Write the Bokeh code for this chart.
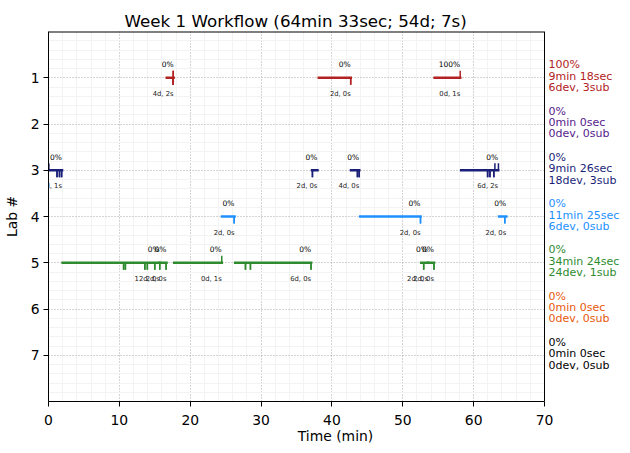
import numpy as np
from bokeh.plotting import figure
from bokeh.models import (Range1d, FixedTicker, ColumnDataSource, LabelSet, Span)
from bokeh.core.properties import value
from bokeh.embed import file_html
from bokeh.resources import INLINE

# ---------------- data ----------------
title_text = "Week 1 Workflow (64min 33sec; 54d; 7s)"
x_label = "Time (min)"
y_label = "Lab #"
x_ticks = [0, 10, 20, 30, 40, 50, 60, 70]
y_ticks = [1, 2, 3, 4, 5, 6, 7]

labs = [1, 2, 3, 4, 5, 6, 7]
lab_colors = ["#b22222", "#551a8b", "#1a1f78", "#1e90ff", "#2e8b2e", "#e8590c", "#000000"]
lab_pct = ["100%", "0%", "0%", "0%", "0%", "0%", "0%"]
lab_time = ["9min 18sec", "0min 0sec", "9min 26sec", "11min 25sec",
            "34min 24sec", "0min 0sec", "0min 0sec"]
lab_counts = ["6dev, 3sub", "0dev, 0sub", "18dev, 3sub", "6dev, 0sub",
              "24dev, 1sub", "0dev, 0sub", "0dev, 0sub"]

# work sessions
sess_lab = [1, 1, 1,
            3, 3, 3, 3,
            4, 4, 4,
            5, 5, 5, 5, 5, 5]
sess_start = [16.7, 38.15, 54.5,
              0.0, 37.2, 42.7, 58.25,
              24.5, 44.0, 63.6,
              2.0, 15.7, 17.75, 26.35, 52.6, 53.55]
sess_end = [17.65, 42.65, 58.1,
            1.9, 37.95, 43.85, 63.45,
            26.25, 52.5, 64.6,
            15.7, 16.65, 24.45, 37.05, 53.55, 54.4]
sess_pct = ["0%", "0%", "100%",
            "0%", "0%", "0%", "0%",
            "0%", "0%", "0%",
            "0%", "0%", "0%", "0%", "0%", "0%"]
sess_info = ["4d, 2s", "2d, 0s", "0d, 1s",
             "6d, 1s", "2d, 0s", "4d, 0s", "6d, 2s",
             "2d, 0s", "2d, 0s", "2d, 0s",
             "12d, 0s", "2d, 0s", "0d, 1s", "6d, 0s", "2d, 0s", "2d, 0s"]

# development events (ticks below the row)
dev_lab = [1] * 6 + [3] * 18 + [4] * 6 + [5] * 24
dev_x = [17.6, 17.6, 17.6, 17.6, 42.65, 42.65,
         1.2, 1.2, 1.55, 1.55, 1.85, 1.85,
         37.25, 37.25,
         43.6, 43.6, 43.85, 43.85,
         61.95, 62.0, 62.3, 62.3, 62.85, 62.85,
         26.2, 26.2, 52.5, 52.5, 64.4, 64.4,
         10.6, 10.6, 10.85, 10.85, 13.6, 13.6, 13.95, 13.95, 15.0, 15.0, 15.7, 15.7,
         16.6, 16.6,
         27.8, 27.8, 28.5, 28.5, 37.05, 37.05,
         52.95, 52.95, 54.4, 54.4]

# submissions (ticks above the row)
sub_lab = [1, 1, 1, 3, 3, 3, 5]
sub_x = [17.6, 17.6, 58.1, 0.05, 63.0, 63.5, 24.45]

# ---------------- layout / styles ----------------
FONT = "DejaVu Sans"
TICK_LEN = 0.15
X_MIN, X_MAX = x_ticks[0], x_ticks[-1]
Y_MIN, Y_MAX = 0, 8
AXES_W = 496            # pixel width of the data area (0..70)
SIDE_W = 78             # extra room on the right for the summaries
FRAME_W = AXES_W + SIDE_W
x_end = X_MAX * FRAME_W / AXES_W

p = figure(frame_width=FRAME_W, frame_height=370,
           x_range=Range1d(X_MIN, x_end), y_range=Range1d(Y_MAX, Y_MIN),
           output_backend="svg", toolbar_location=None,
           title=title_text,
           min_border_left=40, min_border_right=0,
           min_border_top=31, min_border_bottom=43)
p.background_fill_color = "white"
p.border_fill_color = "white"
p.outline_line_color = None

p.title.text_font = FONT
p.title.text_font_size = "16.7px"
p.title.text_font_style = "normal"
p.title.text_color = "black"
p.title.align = "left"
p.title.offset = 76
p.title.standoff = 2

minor_x = [v for v in range(X_MIN, X_MAX, 2) if v % 10 != 0]
minor_y = [round(v, 2) for v in np.arange(0.2, 8.0, 0.2) if abs(v - round(v)) > 1e-6]
xt = FixedTicker(ticks=x_ticks, minor_ticks=minor_x)
yt = FixedTicker(ticks=y_ticks, minor_ticks=minor_y)
p.xaxis.ticker = xt
p.xgrid.ticker = xt
p.yaxis.ticker = yt
p.ygrid.ticker = yt
p.xaxis.bounds = (X_MIN, X_MAX)

for ax in (p.xaxis[0], p.yaxis[0]):
    ax.axis_line_color = "black"
    ax.axis_line_width = 1
    ax.major_tick_out = 5
    ax.major_tick_in = 0
    ax.major_tick_line_color = "black"
    ax.minor_tick_out = 0
    ax.minor_tick_in = 0
    ax.major_label_text_font = FONT
    ax.major_label_text_font_size = "13.9px"
    ax.major_label_text_color = "black"
    ax.axis_label_text_font = FONT
    ax.axis_label_text_font_size = "13.9px"
    ax.axis_label_text_font_style = "normal"
    ax.axis_label_text_color = "black"
    ax.major_label_standoff = 4
p.xaxis.axis_label = x_label
p.yaxis.axis_label = y_label
p.xaxis.major_label_standoff = 8
p.xaxis.axis_label_standoff = 0
p.yaxis.axis_label_standoff = 8

for g in (p.xgrid[0], p.ygrid[0]):
    g.grid_line_color = "#a8a8a8"
    g.grid_line_dash = "1 2"
    g.grid_line_width = 1
    g.minor_grid_line_color = "#f3f3f3"
    g.minor_grid_line_width = 1
p.ygrid[0].cross_bounds = (X_MIN, X_MAX)

# right and top spines of the data area
p.add_layout(Span(location=X_MAX, dimension="height", line_color="black", line_width=1))
p.segment(x0=[X_MIN], y0=[Y_MIN], x1=[X_MAX], y1=[Y_MIN], line_color="black", line_width=2)

# ---------------- marks ----------------
sess_color = [lab_colors[l - 1] for l in sess_lab]
bars = ColumnDataSource(dict(x0=sess_start, x1=sess_end, y=sess_lab,
                             color=sess_color, pct=sess_pct, info=sess_info))
p.segment(x0="x0", y0="y", x1="x1", y1="y", source=bars,
          line_color="color", line_width=2.6, line_cap="square")

dev_src = ColumnDataSource(dict(x=dev_x, y0=dev_lab,
                                y1=[l + TICK_LEN for l in dev_lab],
                                color=[lab_colors[l - 1] for l in dev_lab]))
p.segment(x0="x", y0="y0", x1="x", y1="y1", source=dev_src,
          line_color="color", line_width=1.5)

sub_src = ColumnDataSource(dict(x=sub_x, y0=sub_lab,
                                y1=[l - TICK_LEN for l in sub_lab],
                                color=[lab_colors[l - 1] for l in sub_lab]))
p.segment(x0="x", y0="y0", x1="x", y1="y1", source=sub_src,
          line_color="color", line_width=1.5)

p.add_layout(LabelSet(x="x1", y="y", text="pct", source=bars,
                      text_align="right", text_baseline="middle",
                      y_offset=13, text_font=value(FONT),
                      text_font_size="7.5px", text_color="black"))
p.add_layout(LabelSet(x="x1", y="y", text="info", source=bars,
                      text_align="right", text_baseline="middle",
                      y_offset=-16, text_font=value(FONT),
                      text_font_size="6.8px", text_color="#222222"))

# right-hand summaries per lab
summ = ColumnDataSource(dict(x=[X_MAX] * len(labs), y=labs, color=lab_colors,
                             pct=lab_pct, time=lab_time, counts=lab_counts))
for field, off in (("pct", -13), ("time", -1.4), ("counts", 9.8)):
    p.text(x="x", y="y", text=field, source=summ, x_offset=4, y_offset=off,
           text_color="color", text_font=value(FONT), text_font_size="11px",
           text_align="left", text_baseline="middle")

open("out.html", "w").write(file_html(p, INLINE))
